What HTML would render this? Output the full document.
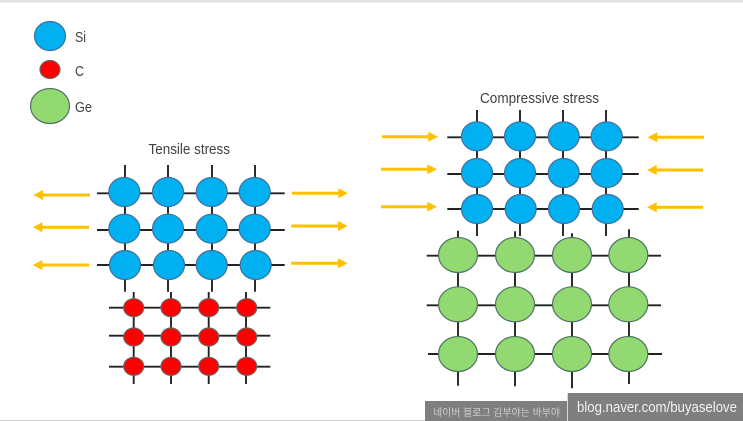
<!DOCTYPE html>
<html>
<head>
<meta charset="utf-8">
<style>
html,body{margin:0;padding:0;background:#fff;width:743px;height:421px;overflow:hidden}
svg{display:block;filter:blur(.3px)}
text{font-family:"Liberation Sans","Noto Sans CJK KR",sans-serif;fill:#404040}
.b{fill:#00B0F0;stroke:#41719C;stroke-width:1.2}
.r{fill:#FF0000;stroke:#666;stroke-width:1.2}
.g{fill:#92D972;stroke:#4F7563;stroke-width:1.2}
.l{fill:none;stroke:#222;stroke-width:1.9}
.a{fill:none;stroke:#FFC000;stroke-width:3}
.h{fill:#FFC000}
</style>
</head>
<body>
<svg width="743" height="421" viewBox="0 0 743 421" xmlns="http://www.w3.org/2000/svg">
<rect x="0" y="0" width="743" height="2.5" fill="#e2e2e2"/>
<rect x="0" y="420" width="425" height="1" fill="#cfcfcf"/>

<!-- Legend -->
<ellipse class="b" cx="50" cy="36" rx="15.5" ry="14.5"/>
<ellipse class="r" cx="50" cy="69.5" rx="10" ry="9"/>
<ellipse class="g" cx="50" cy="106" rx="19.5" ry="17.5"/>
<text x="75" y="42" font-size="15" textLength="11" lengthAdjust="spacingAndGlyphs">Si</text>
<text x="75" y="76" font-size="15" textLength="9" lengthAdjust="spacingAndGlyphs">C</text>
<text x="75" y="112" font-size="15" textLength="17" lengthAdjust="spacingAndGlyphs">Ge</text>

<text x="148.500" y="154" font-size="14.500" textLength="81.500" lengthAdjust="spacingAndGlyphs">Tensile stress</text>
<text x="480" y="103" font-size="14.500" textLength="119" lengthAdjust="spacingAndGlyphs">Compressive stress</text>

<!-- Tensile Si lines -->
<path class="l" d="M97 193.300H284.700M97 230H284.700M97 265H284.700M125 165V291.700M168 165V291.700M212 165V291.700M255 165V291.700"/>
<g class="b">
<ellipse cx="124.300" cy="192" rx="15.500" ry="14.500"/><ellipse cx="168" cy="192" rx="15.500" ry="14.500"/><ellipse cx="211.700" cy="192" rx="15.500" ry="14.500"/><ellipse cx="254.700" cy="192" rx="15.500" ry="14.500"/>
<ellipse cx="124.300" cy="228.700" rx="15.500" ry="14.500"/><ellipse cx="168" cy="228.700" rx="15.500" ry="14.500"/><ellipse cx="211.700" cy="228.700" rx="15.500" ry="14.500"/><ellipse cx="254.700" cy="228.700" rx="15.500" ry="14.500"/>
<ellipse cx="125" cy="265" rx="15.500" ry="14.500"/><ellipse cx="169" cy="265" rx="15.500" ry="14.500"/><ellipse cx="211.700" cy="265" rx="15.500" ry="14.500"/><ellipse cx="255.700" cy="265" rx="15.500" ry="14.500"/>
</g>

<!-- Tensile arrows -->
<path class="a" d="M90 195H40M89 227.300H39M89 265H39M292 193.300H341M291.300 226H340.700M291.300 263.300H340.700"/>
<path class="h" d="M33.300 195L43 190V200ZM32.700 227.300L42.400 222.300V232.300ZM32.700 265L42.400 260V270ZM348 193.300L338.300 188.300V198.300ZM347.700 226L338 221V231ZM347.700 263.300L338 258.300V268.300Z"/>

<!-- Carbon lines -->
<path class="l" d="M109 307.700H270.300M109 335.700H270.300M109 366.700H270.300M133.700 292V384M171 292V384M208.700 292V384M246 292V384"/>
<g class="r">
<ellipse cx="133.700" cy="307.700" rx="10" ry="9"/><ellipse cx="171" cy="307.700" rx="10" ry="9"/><ellipse cx="208.700" cy="307.700" rx="10" ry="9"/><ellipse cx="246.700" cy="307.700" rx="10" ry="9"/>
<ellipse cx="133.700" cy="337" rx="10" ry="9"/><ellipse cx="171" cy="337" rx="10" ry="9"/><ellipse cx="208.700" cy="337" rx="10" ry="9"/><ellipse cx="246.700" cy="337" rx="10" ry="9"/>
<ellipse cx="133.700" cy="366.300" rx="10" ry="9"/><ellipse cx="171" cy="366.300" rx="10" ry="9"/><ellipse cx="208.700" cy="366.300" rx="10" ry="9"/><ellipse cx="246.700" cy="366.300" rx="10" ry="9"/>
</g>

<!-- Ge lines -->
<path class="l" d="M426.700 255.700H661M426.700 305.300H661M428 354H662M458 230.700V385.700M515 231.300V386.300M572 233.300V388.300M629 229.300V384"/>
<g class="g">
<ellipse cx="458" cy="255" rx="19.500" ry="17.500"/><ellipse cx="515" cy="255" rx="19.500" ry="17.500"/><ellipse cx="572" cy="255" rx="19.500" ry="17.500"/><ellipse cx="628.300" cy="255" rx="19.500" ry="17.500"/>
<ellipse cx="458" cy="304.300" rx="19.500" ry="17.500"/><ellipse cx="515" cy="304.300" rx="19.500" ry="17.500"/><ellipse cx="572" cy="304.300" rx="19.500" ry="17.500"/><ellipse cx="628.300" cy="304.300" rx="19.500" ry="17.500"/>
<ellipse cx="458" cy="354" rx="19.500" ry="17.500"/><ellipse cx="515" cy="354" rx="19.500" ry="17.500"/><ellipse cx="572" cy="354" rx="19.500" ry="17.500"/><ellipse cx="628.300" cy="354" rx="19.500" ry="17.500"/>
</g>

<!-- Compressive Si lines -->
<path class="l" d="M447.300 137.300H638.700M447.300 174H638.700M447.300 209H638.700M477 110V236M520 110V236M563 110V236M606 110V236"/>
<g class="b">
<ellipse cx="477" cy="136.300" rx="15.500" ry="14.500"/><ellipse cx="520" cy="136.300" rx="15.500" ry="14.500"/><ellipse cx="563.700" cy="136.300" rx="15.500" ry="14.500"/><ellipse cx="606.700" cy="136.300" rx="15.500" ry="14.500"/>
<ellipse cx="477" cy="173" rx="15.500" ry="14.500"/><ellipse cx="520" cy="173" rx="15.500" ry="14.500"/><ellipse cx="563.700" cy="173" rx="15.500" ry="14.500"/><ellipse cx="606.700" cy="173" rx="15.500" ry="14.500"/>
<ellipse cx="477" cy="209" rx="15.500" ry="14.500"/><ellipse cx="520.700" cy="209" rx="15.500" ry="14.500"/><ellipse cx="564" cy="209" rx="15.500" ry="14.500"/><ellipse cx="607.700" cy="209" rx="15.500" ry="14.500"/>
</g>

<!-- Compressive arrows -->
<path class="a" d="M382 136.700H431M381 169.300H430M381 206.700H430M704 137.300H655M703 170H654M703 207.300H654"/>
<path class="h" d="M438 136.700L428.300 131.700V141.700ZM437 169.300L427.300 164.300V174.300ZM437 206.700L427.300 201.700V211.700ZM647.700 137.300L657.400 132.300V142.300ZM647 170L656.700 165V175ZM647 207.300L656.700 202.300V212.300Z"/>

<!-- Watermark -->
<rect x="425" y="401" width="142" height="20" fill="#7f7f7f"/>
<rect x="567.700" y="393" width="175.300" height="28" fill="#7f7f7f"/>
<text x="433" y="416" font-size="10" textLength="127" lengthAdjust="spacingAndGlyphs" style="fill:#d0d0d0">네이버 블로그 김부야는 바부야</text>
<text x="577" y="412" font-size="15" textLength="160" lengthAdjust="spacingAndGlyphs" style="fill:#f2f2f2">blog.naver.com/buyaselove</text>
</svg>
</body>
</html>
